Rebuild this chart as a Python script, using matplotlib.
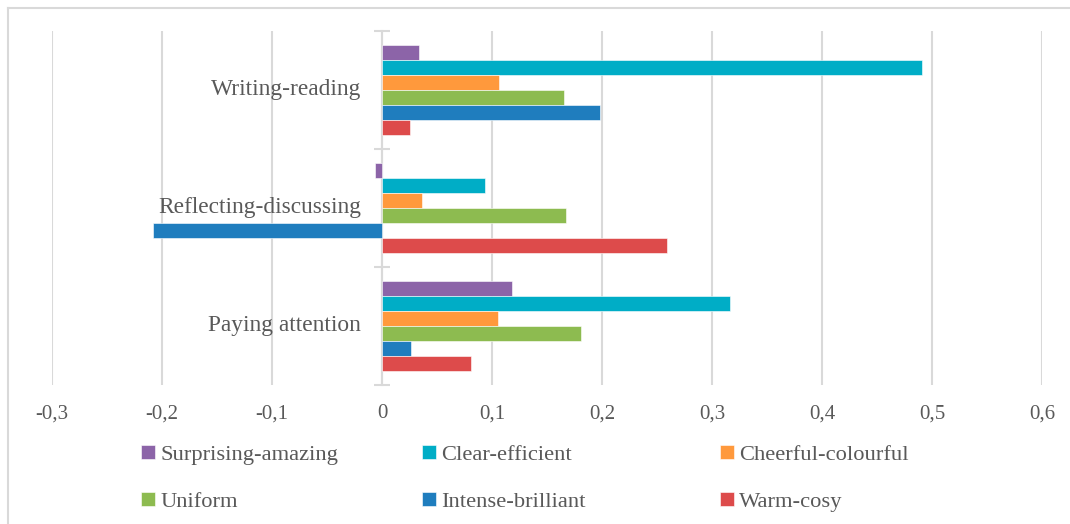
import matplotlib.pyplot as plt
from matplotlib.lines import Line2D
import numpy as np

plt.rcParams['font.family'] = ['Liberation Serif', 'DejaVu Serif']

categories = ["Paying attention", "Reflecting-discussing", "Writing-reading"]
series = ["Surprising-amazing", "Clear-efficient", "Cheerful-colourful",
          "Uniform", "Intense-brilliant", "Warm-cosy"]
colors = ["#8C64A8", "#00ADC6", "#FF993C", "#8DBB50", "#1F7DBE", "#DD4B4B"]

# values per series, in category order (Paying, Reflecting, Writing)
surprising = [0.118, -0.006, 0.034]
clear = [0.316, 0.094, 0.491]
cheerful = [0.105, 0.036, 0.106]
uniform = [0.181, 0.167, 0.165]
intense = [0.026, -0.208, 0.198]
warm = [0.081, 0.259, 0.025]
values = [surprising, clear, cheerful, uniform, intense, warm]

xticks = [-0.3, -0.2, -0.1, 0, 0.1, 0.2, 0.3, 0.4, 0.5, 0.6]
xticklabels = ["-0,3", "-0,2", "-0,1", "0", "0,1", "0,2", "0,3", "0,4", "0,5", "0,6"]

W, H = 1070, 524
fig = plt.figure(figsize=(W / 100, H / 100), dpi=100)
ax = fig.add_axes([52 / W, 1 - 385 / H, (1042 - 52) / W, (385 - 31) / H])

txt = "#595959"
grid = "#D9D9D9"

y = np.arange(len(categories))
h = 15 / 118
handles = []
for k, (name, vals, c) in enumerate(zip(series, values, colors)):
    b = ax.barh(y + (2.5 - k) * h, vals, height=h, color=c,
                edgecolor="white", linewidth=0.4, zorder=3, label=name)
    handles.append(b)

ax.set_xlim(-0.3, 0.6)
ax.set_ylim(-0.5, 2.5)
ax.set_xticks(xticks)
ax.set_xticklabels(xticklabels, fontsize=15, color=txt)
ax.tick_params(axis="x", length=0, pad=14)
ax.grid(axis="x", color=grid, linewidth=1.5, zorder=0)

for s in ["top", "right", "bottom"]:
    ax.spines[s].set_visible(False)
ax.spines["left"].set_position(("data", 0))
ax.spines["left"].set_color(grid)
ax.spines["left"].set_linewidth(1.5)
ax.spines["left"].set_zorder(2)
ax.set_yticks([-0.5, 0.5, 1.5, 2.5])
ax.set_yticklabels([])
ax.tick_params(axis="y", direction="inout", length=11, width=1.5, color=grid)

for i, cat in enumerate(categories):
    ax.annotate(cat, xy=(0, i), xytext=(-15, 0), textcoords="offset points",
                ha="right", va="center", fontsize=16.8, color=txt, zorder=4)

# legend in three columns, two rows each
col_x = [141, 422, 720]
for j in range(3):
    hs = [handles[j], handles[j + 3]]
    labs = [series[j], series[j + 3]]
    fig.legend(hs, labs, loc="upper left", bbox_to_anchor=(col_x[j] / W, 1 - 445 / H),
               frameon=False, fontsize=16.2, labelcolor=txt, handlelength=0.6,
               handleheight=0.6, handletextpad=0.25, labelspacing=1.2,
               borderpad=0, borderaxespad=0)

# outer frame, top and left edges only
fig.add_artist(Line2D([8 / W, 1], [1 - 8 / H, 1 - 8 / H], color=grid, linewidth=1.5))
fig.add_artist(Line2D([8 / W, 8 / W], [0, 1 - 8 / H], color=grid, linewidth=1.5))

fig.savefig("out.png", dpi=100)
